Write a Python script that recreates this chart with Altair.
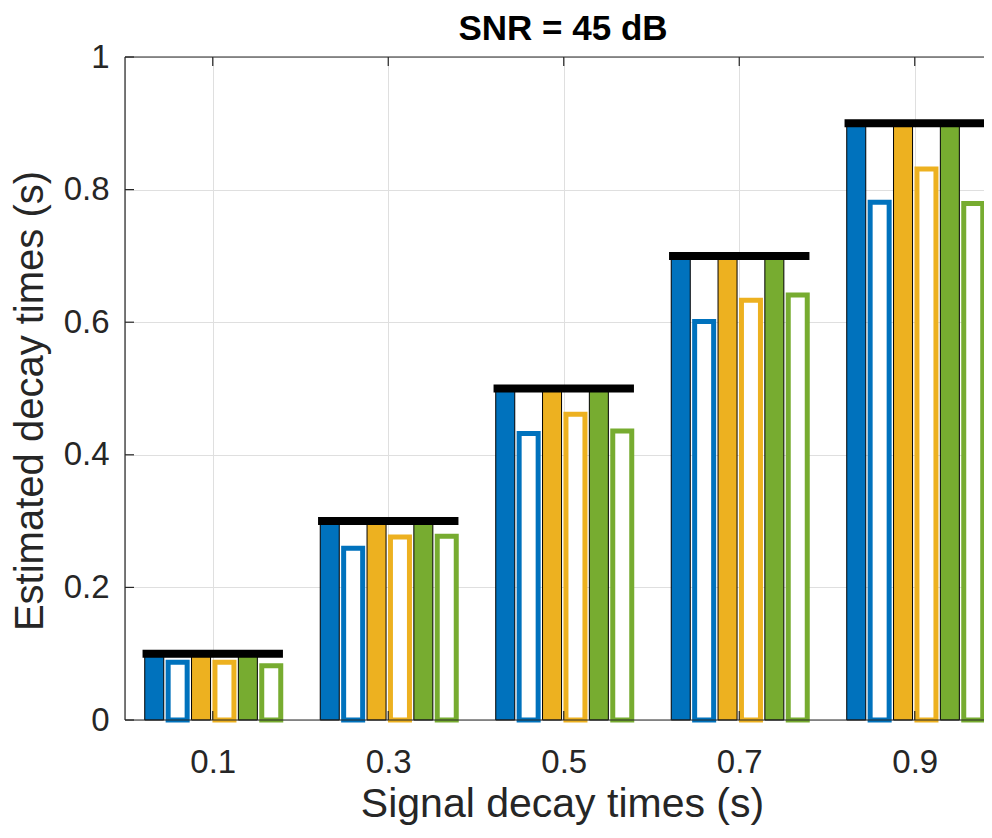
import altair as alt
import pandas as pd

# ---------------- data ----------------
true_times = [0.1, 0.3, 0.5, 0.7, 0.9]

series_names = ["A full", "A partial", "B full", "B partial", "C full", "C partial"]
series_colors = ["#0072BD", "#0072BD", "#EDB120", "#EDB120", "#77AC30", "#77AC30"]
series_filled = [True, False, True, False, True, False]

a_full = [0.1, 0.3, 0.5, 0.7, 0.9]
a_partial = [0.087, 0.259, 0.432, 0.601, 0.781]
b_full = [0.1, 0.3, 0.5, 0.7, 0.9]
b_partial = [0.087, 0.276, 0.461, 0.633, 0.831]
c_full = [0.1, 0.3, 0.5, 0.7, 0.9]
c_partial = [0.082, 0.277, 0.436, 0.641, 0.779]

x_ticks = [0.1, 0.3, 0.5, 0.7, 0.9]
y_ticks = [0, 0.2, 0.4, 0.6, 0.8, 1]

title_text = "SNR = 45 dB"
x_title = "Signal decay times (s)"
y_title = "Estimated decay times (s)"

all_series = [a_full, a_partial, b_full, b_partial, c_full, c_partial]

rows = []
for slot, (name, vals) in enumerate(zip(series_names, all_series)):
    for g, v in zip(true_times, vals):
        rows.append({"group": g, "slot": slot, "series": name,
                     "filled": series_filled[slot], "value": v, "base": 0.0})
df = pd.DataFrame(rows)
df_full = df[df["filled"]].reset_index(drop=True)
df_part = df[~df["filled"]].reset_index(drop=True)
df_true = pd.DataFrame({"t": true_times})
df_xt = pd.DataFrame({"t": x_ticks})
df_yt = pd.DataFrame({"t": y_ticks})
df_one = pd.DataFrame({"v": [0]})

# ---------------- layout ----------------
W, H = 859, 663
AX = "#262626"
FONT = "Liberation Sans"
STEP = 0.08 / 3
HALF = 0.01083
XMAX = W / 877.5

x_scale = alt.Scale(domain=[0, XMAX], nice=False, zero=False)
y_scale = alt.Scale(domain=[0, 1], nice=False, zero=False)
color_scale = alt.Scale(domain=series_names, range=series_colors)

x_axis = alt.Axis(values=x_ticks, format=".1f", title=x_title,
                  labelFontSize=33, labelFont=FONT, labelColor=AX, labelPadding=26,
                  tickSize=0, domain=False, grid=True, gridColor="#dfdfdf",
                  titleFontSize=41, titleFont=FONT, titleFontWeight="normal",
                  titleColor=AX, titleX=437, titleY=96, titleBaseline="alphabetic",
                  titleAnchor="middle", titleAlign="center")
y_axis = alt.Axis(values=y_ticks, format="~g", title=y_title,
                  labelFontSize=33, labelFont=FONT, labelColor=AX, labelPadding=16,
                  tickSize=0, domain=False, grid=True, gridColor="#dfdfdf",
                  titleFontSize=40, titleFont=FONT, titleFontWeight="normal",
                  titleColor=AX, titleX=-95, titleY=H / 2 + 12, titleAngle=270,
                  titleBaseline="middle", titleAnchor="middle", titleAlign="center")


def X(field=None, **kw):
    if field is None:
        return alt.X(scale=x_scale, axis=x_axis, **kw)
    return alt.X(field, scale=x_scale, axis=x_axis, **kw)


def Y(field=None, **kw):
    if field is None:
        return alt.Y(scale=y_scale, axis=y_axis, **kw)
    return alt.Y(field, scale=y_scale, axis=y_axis, **kw)


def bars(data):
    return alt.Chart(data).transform_calculate(
        x0=f"datum.group + (datum.slot - 2.5) * {STEP} - {HALF}",
        x1=f"datum.group + (datum.slot - 2.5) * {STEP} + {HALF}",
    )


full = bars(df_full).mark_rect(stroke="black", strokeWidth=1).encode(
    x=X("x0:Q"), x2="x1:Q",
    y=Y("value:Q"), y2="base:Q",
    fill=alt.Fill("series:N", scale=color_scale, legend=None),
)

part = bars(df_part).mark_rect(fill="white", strokeWidth=5).encode(
    x=X("x0:Q"), x2="x1:Q",
    y=Y("value:Q"), y2="base:Q",
    stroke=alt.Stroke("series:N", scale=color_scale, legend=None),
)

truth = alt.Chart(df_true).transform_calculate(
    l="datum.t - 0.08", r="datum.t + 0.08"
).mark_rule(color="black", strokeWidth=8).encode(
    x=X("l:Q"), x2="r:Q", y=Y("t:Q"),
)

bottom_line = alt.Chart(df_one).mark_rule(color=AX, strokeWidth=1.2).encode(
    y=Y(datum=0), x=alt.value(0), x2=alt.value(W))
top_line = alt.Chart(df_one).mark_rule(color=AX, strokeWidth=1.2).encode(
    y=Y(datum=1), x=alt.value(0), x2=alt.value(W))
left_line = alt.Chart(df_one).mark_rule(color=AX, strokeWidth=1.2).encode(
    x=X(datum=0), y=alt.value(0), y2=alt.value(H))

xt_bottom = alt.Chart(df_xt).mark_rule(color=AX, strokeWidth=1.2).encode(
    x=X("t:Q"), y=alt.value(H), y2=alt.value(H - 9))
xt_top = alt.Chart(df_xt).mark_rule(color=AX, strokeWidth=1.2).encode(
    x=X("t:Q"), y=alt.value(0), y2=alt.value(9))
yt_left = alt.Chart(df_yt).mark_rule(color=AX, strokeWidth=1.2).encode(
    y=Y("t:Q"), x=alt.value(0), x2=alt.value(9))

title = alt.Chart(df_one).mark_text(
    text=title_text, fontSize=35, fontWeight="bold", font=FONT, color="black",
    align="center", baseline="alphabetic",
).encode(x=alt.value(438), y=alt.value(-17))

chart = alt.layer(
    full, part, truth, bottom_line, top_line, left_line, xt_bottom, xt_top, yt_left, title
).properties(
    width=W, height=H,
    autosize=alt.AutoSizeParams(type="none"),
    padding={"left": 117, "top": 49, "right": 0, "bottom": 105},
).configure_view(strokeWidth=0).configure(background="white")

chart.save("out.html", embed_options={"renderer": "svg", "actions": False})
